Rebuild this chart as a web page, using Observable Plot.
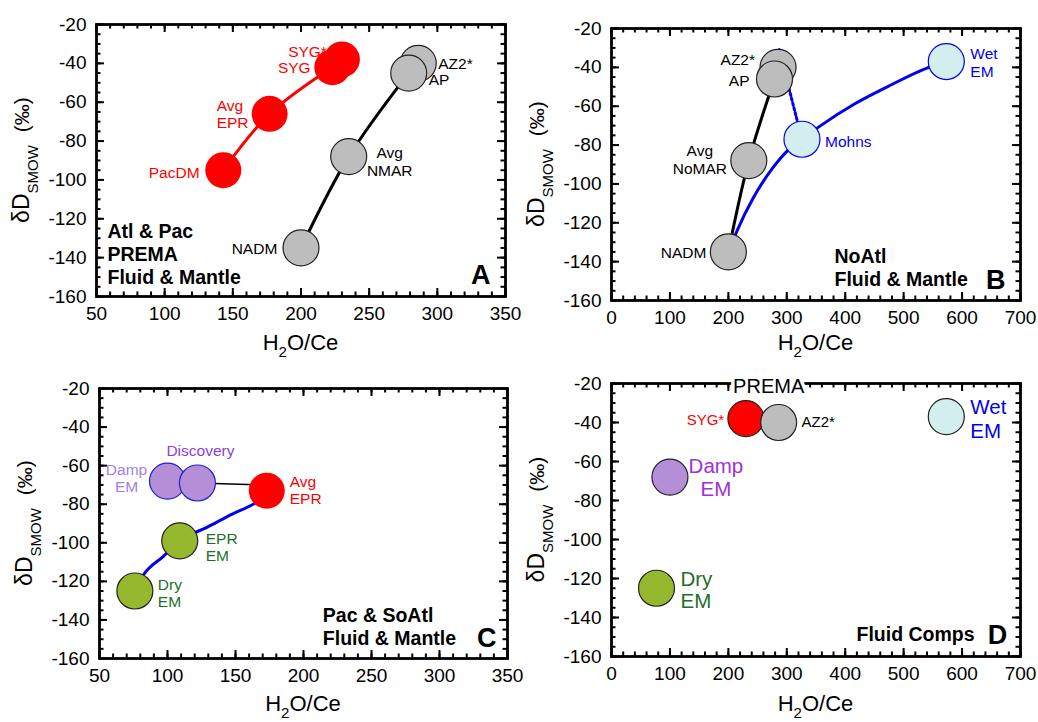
<!DOCTYPE html>
<html><head><meta charset="utf-8">
<script src="https://cdn.jsdelivr.net/npm/d3@7"></script>
<script src="https://cdn.jsdelivr.net/npm/@observablehq/plot@0.6"></script>
<style>
body{margin:0;background:#fff;}
#wrap{position:relative;width:1038px;height:722px;overflow:hidden;background:#fff;}
#wrap svg{position:absolute;overflow:visible;}
</style></head><body><div id="wrap"></div>
<script>
// ---------------- DATA ----------------
// Panel A  (Atl & Pac PREMA)
const aRedNames = ["PacDM", "Avg\nEPR", "SYG*", "SYG"];
const aRedX = [143, 177, 230, 223];
const aRedY = [-95, -66, -38, -42];
const aGrayNames = ["NADM", "Avg\nNMAR", "AZ2*", "AP"];
const aGrayX = [200, 235, 286, 279];
const aGrayY = [-135, -88, -40, -45];
const aRedLine = ["PacDM", "Avg\nEPR", "SYG"];
const aGrayLine = ["NADM", "Avg\nNMAR", "AP"];

// Panel B  (NoAtl)
const bGrayNames = ["NADM", "Avg\nNoMAR", "AZ2*", "AP"];
const bGrayX = [200, 235, 285, 279];
const bGrayY = [-135, -88, -40, -46];
const bFluidNames = ["Mohns", "Wet\nEM"];
const bFluidX = [326, 573];
const bFluidY = [-77, -37];
const bGrayLine = ["NADM", "Avg\nNoMAR", "AP"];
const bMixX = [200, 215, 243, 278, 301, 326, 358, 415, 472, 543, 573];
const bMixY = [-135, -124, -107, -91, -83, -77, -70, -59, -50, -40, -37];
const bDashX = [326, 286];
const bDashY = [-77, -30];

// Panel C  (Pac & SoAtl)
const cNames = ["Damp\nEM", "Discovery", "Avg\nEPR", "EPR\nEM", "Dry\nEM"];
const cX = [100, 122, 173, 109, 76];
const cY = [-68, -69, -73, -99, -125];
const cTieX = [122, 168];
const cTieY = [-69, -70];
const cMixX = [76, 82, 97, 109, 129, 148, 163, 170];
const cMixY = [-125, -117, -107, -99, -92, -85, -80, -77];

// Panel D  (Fluid Comps)
const dNames = ["SYG*", "AZ2*", "Wet\nEM", "Damp\nEM", "Dry\nEM"];
const dX = [230, 286, 573, 100, 77];
const dY = [-38, -40, -37, -68, -125];
const dPremaX = [269];

// Axes ticks
const xTicksA = [50, 100, 150, 200, 250, 300, 350];
const xTicksB = [0, 100, 200, 300, 400, 500, 600, 700];
const yTicks = [-160, -140, -120, -100, -80, -60, -40, -20];

// ---------------- STYLE ----------------
const RED = "#ff0000", GREY = "#bdbdbd", CYAN = "#d2eeee", PURPLE = "#b48fd8",
      GREEN = "#96b82e", BLUE = "#0000ee", DGREEN = "#1e6e28", DISC = "#8a3fe0",
      DAMPC = "#9f80e6", DAMPD = "#a22fd8", EDGE = "#222";
const W = 519, H = 361;
const FONT = "'Liberation Sans', Arial, Helvetica, sans-serif";

function pts(names, xs, ys) { return names.map((n, i) => ({name: n, x: xs[i], y: ys[i]})); }
function pick(rows, names) { return names.map(n => rows.find(r => r.name === n)); }

function dots(rows, fill, stroke) {
  return Plot.dot(rows, {x: "x", y: "y", r: 18, fill, stroke: stroke || "none", strokeWidth: 1.2});
}
function line(rows, stroke, sw, curve) {
  return Plot.line(rows, {x: "x", y: "y", stroke, strokeWidth: sw, curve: curve || "catmull-rom"});
}
function labels(rows, specs) {
  return specs.map(s => Plot.text(pick(rows, [s.n]), {
    x: "x", y: "y", text: "name", dx: s.dx, dy: s.dy, textAnchor: s.a,
    lineAnchor: "middle", fill: s.c, fontSize: s.f || 15.5, lineHeight: s.lh || 1.13
  }));
}
function boldText(txt, dx, dy, size, anchor) {
  return Plot.text([txt], {text: d => d, frameAnchor: "bottom-right", dx, dy,
    textAnchor: anchor, lineAnchor: "middle", fontWeight: "bold", fontSize: size, lineHeight: 1.17, fill: "black"});
}

function panel(cfg) {
  const innerW = W - cfg.ml - cfg.mr, innerH = H - cfg.mt - cfg.mb;
  const xMinor = d3.range(cfg.xDomain[0], cfg.xDomain[1] + 0.001, cfg.xMinorStep);
  const yMinor = d3.range(-160, -19.999, 5);
  const tk = {stroke: "black", strokeWidth: 2};
  const marks = [
    Plot.tickX(xMinor, {x: d => d, insetTop: innerH - 4.5, ...tk}),
    Plot.tickX(xMinor, {x: d => d, insetBottom: innerH - 4.5, ...tk}),
    Plot.tickX(cfg.xTicks, {x: d => d, insetTop: innerH - 8, ...tk}),
    Plot.tickX(cfg.xTicks, {x: d => d, insetBottom: innerH - 8, ...tk}),
    Plot.tickY(yMinor, {y: d => d, insetRight: innerW - 4.5, ...tk}),
    Plot.tickY(yMinor, {y: d => d, insetLeft: innerW - 4.5, ...tk}),
    Plot.tickY(yTicks, {y: d => d, insetRight: innerW - 8, ...tk}),
    Plot.tickY(yTicks, {y: d => d, insetLeft: innerW - 8, ...tk}),
    Plot.frame({stroke: "black", strokeWidth: 2.8}),
    Plot.axisX({ticks: cfg.xTicks, tickSize: 0, tickPadding: 10, fontSize: 19, tickFormat: d => String(d), label: null}),
    Plot.axisY({ticks: yTicks, tickSize: 0, tickPadding: 10, fontSize: 19, tickFormat: d => String(d), label: null}),
    ...cfg.marks
  ];
  const svg = Plot.plot({
    width: W, height: H,
    marginLeft: cfg.ml, marginRight: cfg.mr, marginTop: cfg.mt, marginBottom: cfg.mb,
    x: {domain: cfg.xDomain}, y: {domain: [-160, -20]},
    style: {fontFamily: FONT, fontSize: "19px", color: "black", background: "transparent", overflow: "visible"},
    marks
  });
  const s = d3.select(svg);
  s.selectAll('g[aria-label="x-axis tick label"], g[aria-label="y-axis tick label"]')
    .attr("font-size", 19).style("font-size", "19px").style("font-variant", "normal");
  const cx = cfg.ml + innerW / 2;
  const t = s.append("text").attr("x", cx).attr("y", H - 11).attr("text-anchor", "middle")
    .attr("font-size", 22).attr("font-family", FONT).attr("fill", "black");
  t.append("tspan").text("H");
  t.append("tspan").attr("font-size", 15).attr("dy", 7).text("2");
  t.append("tspan").attr("dy", -7).text("O/Ce");
  const cy = cfg.mt + innerH / 2;
  const yt = s.append("text").attr("transform", `translate(${cfg.ml - 67},${cy}) rotate(-90)`)
    .attr("text-anchor", "middle").attr("font-size", 23).attr("font-family", FONT).attr("fill", "black");
  yt.append("tspan").text("δD");
  yt.append("tspan").attr("font-size", 15).attr("dy", 8.5).text("SMOW");
  yt.append("tspan").attr("font-size", 21).attr("dy", -8.5).attr("dx", 13).text("(‰)");
  svg.style.left = cfg.left + "px";
  svg.style.top = cfg.top + "px";
  document.getElementById("wrap").appendChild(svg);
}

// ---------- Panel A ----------
const aRed = pts(aRedNames, aRedX, aRedY);
const aGray = pts(aGrayNames, aGrayX, aGrayY);
panel({
  left: 0, top: 0, ml: 96, mr: 14, mt: 24, mb: 65,
  xDomain: [50, 350], xTicks: xTicksA, xMinorStep: 10,
  marks: [
    line(pick(aRed, aRedLine), RED, 3),
    line(pick(aGray, aGrayLine), "black", 3),
    ...labels(aRed, [
      {n: "PacDM", dx: -23.7, dy: 2, a: "end", c: RED},
      {n: "Avg\nEPR", dx: -53, dy: 0, a: "start", c: RED},
      {n: "SYG", dx: -21.7, dy: 0.5, a: "end", c: RED},
      {n: "SYG*", dx: -15, dy: -8, a: "end", c: RED}
    ]),
    ...labels(aGray, [
      {n: "NADM", dx: -23.7, dy: 0, a: "end", c: "black"},
      {n: "Avg\nNMAR", dx: 41, dy: 5, a: "middle", c: "black"},
      {n: "AP", dx: 20, dy: 6.7, a: "start", c: "black"},
      {n: "AZ2*", dx: 20, dy: 0, a: "start", c: "black"}
    ]),
    dots(aRed, RED),
    dots(aGray, GREY, EDGE),
    Plot.text(["Atl & Pac\nPREMA\nFluid & Mantle"], {text: d => d, frameAnchor: "bottom-left", dx: 11, dy: -43,
      textAnchor: "start", lineAnchor: "middle", fontWeight: "bold", fontSize: 19.5, lineHeight: 1.18, fill: "black"}),
    boldText("A", -15, -23, 27, "end")
  ]
});

// ---------- Panel B ----------
const bGray = pts(bGrayNames, bGrayX, bGrayY);
const bFluid = pts(bFluidNames, bFluidX, bFluidY);
panel({
  left: 519, top: 0, ml: 92, mr: 18, mt: 28, mb: 61,
  xDomain: [0, 700], xTicks: xTicksB, xMinorStep: 20,
  marks: [
    line(pick(bGray, bGrayLine), "black", 3),
    line(pts(bMixX.map(String), bMixX, bMixY), BLUE, 3, "monotone-x"),
    Plot.line(pts(bDashX.map(String), bDashX, bDashY), {x: "x", y: "y", stroke: BLUE, strokeWidth: 3, strokeDasharray: "2.5,2.5"}),
    ...labels(bGray, [
      {n: "NADM", dx: -22, dy: 0, a: "end", c: "black"},
      {n: "Avg\nNoMAR", dx: -49, dy: -1, a: "middle", c: "black"},
      {n: "AP", dx: -25, dy: 1, a: "end", c: "black"},
      {n: "AZ2*", dx: -23, dy: -8, a: "end", c: "black"}
    ]),
    ...labels(bFluid, [
      {n: "Mohns", dx: 23, dy: 2, a: "start", c: BLUE},
      {n: "Wet\nEM", dx: 24, dy: 1, a: "start", c: BLUE}
    ]),
    dots(bGray, GREY, EDGE),
    dots(bFluid, CYAN, BLUE),
    boldText("NoAtl\nFluid & Mantle", -186, -33, 19.5, "start"),
    boldText("B", -15, -22, 27, "end")
  ]
});

// ---------- Panel C ----------
const cRows = pts(cNames, cX, cY);
panel({
  left: 0, top: 361, ml: 99, mr: 12, mt: 27, mb: 64,
  xDomain: [50, 350], xTicks: xTicksA, xMinorStep: 10,
  marks: [
    Plot.line(pts(cTieX.map(String), cTieX, cTieY), {x: "x", y: "y", stroke: "black", strokeWidth: 1.6}),
    line(pts(cMixX.map(String), cMixX, cMixY), BLUE, 3, "monotone-x"),
    ...labels(cRows, [
      {n: "Damp\nEM", dx: -41, dy: -3, a: "middle", c: DAMPC},
      {n: "Discovery", dx: 3, dy: -33, a: "middle", c: DISC},
      {n: "Avg\nEPR", dx: 23, dy: -1, a: "start", c: RED},
      {n: "EPR\nEM", dx: 26, dy: 6, a: "start", c: DGREEN},
      {n: "Dry\nEM", dx: 23, dy: 2, a: "start", c: DGREEN}
    ]),
    dots(pick(cRows, ["Damp\nEM", "Discovery"]), PURPLE, "#2020d0"),
    dots(pick(cRows, ["Avg\nEPR"]), RED),
    dots(pick(cRows, ["EPR\nEM", "Dry\nEM"]), GREEN, EDGE),
    boldText("Pac & SoAtl\nFluid & Mantle", -184.7, -32.5, 19.5, "start"),
    boldText("C", -11, -21.5, 27, "end")
  ]
});

// ---------- Panel D ----------
const dRows = pts(dNames, dX, dY);
panel({
  left: 519, top: 361, ml: 92, mr: 18, mt: 22, mb: 66,
  xDomain: [0, 700], xTicks: xTicksB, xMinorStep: 20,
  marks: [
    Plot.text(dPremaX, {x: d => d, frameAnchor: "top", text: () => "PREMA", fontSize: 20, lineAnchor: "middle",
      dy: 3, fill: "white", stroke: "white", strokeWidth: 7}),
    Plot.text(dPremaX, {x: d => d, frameAnchor: "top", text: () => "PREMA", fontSize: 20, lineAnchor: "middle",
      dy: 3, fill: "black"}),
    ...labels(dRows, [
      {n: "SYG*", dx: -21.7, dy: 1, a: "end", c: RED, f: 15},
      {n: "AZ2*", dx: 23, dy: -1, a: "start", c: "black", f: 15},
      {n: "Wet\nEM", dx: 24, dy: 2, a: "start", c: BLUE, f: 20.5, lh: 1.15},
      {n: "Damp\nEM", dx: 46, dy: 0, a: "middle", c: DAMPD, f: 20.5, lh: 1.1},
      {n: "Dry\nEM", dx: 24, dy: 2, a: "start", c: DGREEN, f: 20.5, lh: 1.07}
    ]),
    dots(pick(dRows, ["SYG*"]), RED, EDGE),
    dots(pick(dRows, ["AZ2*"]), GREY, EDGE),
    dots(pick(dRows, ["Wet\nEM"]), CYAN, EDGE),
    dots(pick(dRows, ["Damp\nEM"]), PURPLE, EDGE),
    dots(pick(dRows, ["Dry\nEM"]), GREEN, EDGE),
    boldText("Fluid Comps", -164, -22.7, 19.5, "start"),
    boldText("D", -13.3, -23, 27, "end")
  ]
});
</script></body></html>
